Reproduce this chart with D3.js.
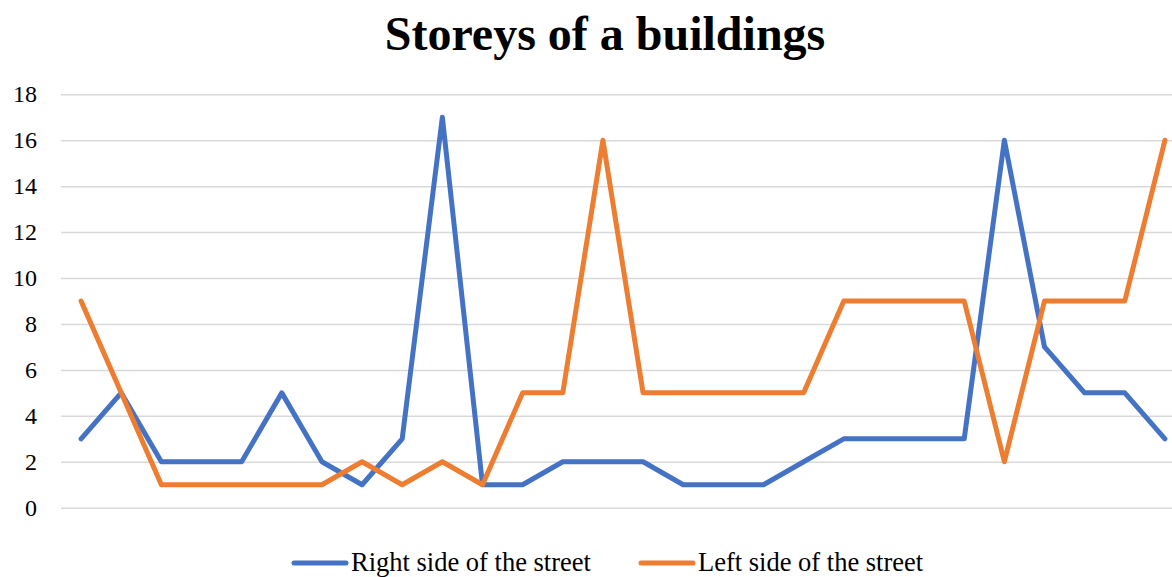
<!DOCTYPE html>
<html>
  <head>
    <script src="https://cdn.jsdelivr.net/npm/d3@7"></script>
    <style>
      body { margin: 0; background: #fff; overflow: hidden; }
      text { font-family: "Liberation Serif", "Times New Roman", serif; fill: #000; }
    </style>
  </head>
  <body>
    <svg id="chart" width="1172" height="577"></svg>
    <script>
    var categories = d3.range(1, 29);
    var rightSide = [3, 5, 2, 2, 2, 5, 2, 1, 3, 17, 1, 1, 2, 2, 2, 1, 1, 1, 2, 3, 3, 3, 3, 16, 7, 5, 5, 3];
    var leftSide  = [9, 5, 1, 1, 1, 1, 1, 2, 1, 2, 1, 5, 5, 16, 5, 5, 5, 5, 5, 9, 9, 9, 9, 2, 9, 9, 9, 16];
    var yTicks = d3.range(0, 19, 2);
    var seriesNames = ["Right side of the street", "Left side of the street"];
    var colours = ["#4472C4", "#ED7D31"];

    var svg = d3.select("#chart")
      , plotLeft = 61, plotRight = 1185, plotTop = 94.3, plotBottom = 507.7;

    var x = d3.scalePoint().domain(categories).range([plotLeft, plotRight]).padding(0.5);
    var y = d3.scaleLinear().domain([0, 18]).range([plotBottom, plotTop]);

    svg.append("text")
      .attr("x", 605).attr("y", 50)
      .attr("text-anchor", "middle")
      .style("font-size", "48px").style("font-weight", "bold")
      .text("Storeys of a buildings");

    // gridlines and tick labels
    var yAxis = svg.append("g")
      .attr("transform", "translate(" + plotLeft + ",0)")
      .call(d3.axisLeft(y).tickValues(yTicks).tickSize(-(plotRight - plotLeft)).tickPadding(24));
    yAxis.select(".domain").remove();
    yAxis.selectAll("line").attr("stroke", "#d9d9d9").attr("stroke-width", 1.5);
    yAxis.selectAll("text").style("font-size", "24px").attr("font-family", null);

    var line = d3.line()
      .x(function(d, i){ return x(categories[i]); })
      .y(function(d){ return y(d); });

    [rightSide, leftSide].forEach(function(values, i){
      svg.append("path")
        .datum(values)
        .attr("d", line)
        .attr("fill", "none")
        .attr("stroke", colours[i])
        .attr("stroke-width", 5)
        .attr("stroke-linejoin", "round")
        .attr("stroke-linecap", "round");
    });

    // legend
    var legendX = [294, 641];
    seriesNames.forEach(function(name, i){
      var g = svg.append("g").attr("transform", "translate(" + legendX[i] + ",563)");
      g.append("line").attr("x1", 0).attr("x2", 52)
        .attr("stroke", colours[i]).attr("stroke-width", 5).attr("stroke-linecap", "round");
      g.append("text").attr("x", 57).attr("y", 8).style("font-size", "26.5px").text(name);
    });
    </script>
  </body>
</html>
